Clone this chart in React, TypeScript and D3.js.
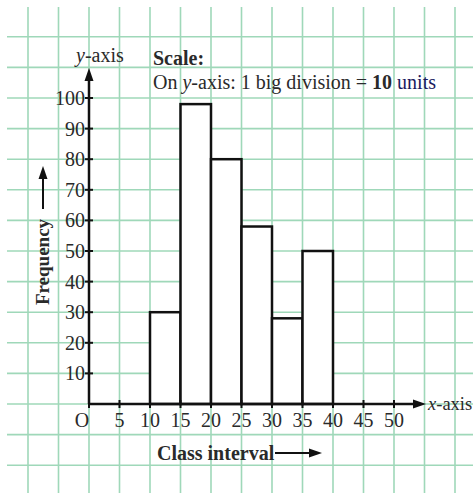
import React from "react";
import * as d3 from "d3";

const classStarts = [10, 15, 20, 25, 30, 35];
const classEnds = [15, 20, 25, 30, 35, 40];
const frequencies = [30, 98, 80, 58, 28, 50];
const xTicks = [0, 5, 10, 15, 20, 25, 30, 35, 40, 45, 50];
const xTickLabels = ["O", "5", "10", "15", "20", "25", "30", "35", "40", "45", "50"];
const yTicks = [10, 20, 30, 40, 50, 60, 70, 80, 90, 100];
const gridX = d3.range(-10, 61, 5);
const gridY = d3.range(-20, 121, 10);

const W = 476;
const H = 493;
const FONT = "'Liberation Serif', 'DejaVu Serif', serif";
const GRID = "#9fd8b9";
const TXT = "#2a2a2a";

export default function App() {
  const x = d3.scaleLinear().domain([0, 50]).range([89, 394]);
  const y = d3.scaleLinear().domain([0, 100]).range([404, 98]);
  const axisTipY = 68;
  const axisTipX = 426;

  return (
    <svg
      width={W}
      height={H}
      style={{ position: "absolute", left: 0, top: 0, background: "#fff" }}
      fontFamily={FONT}
    >
      <g stroke={GRID} strokeWidth={1.6}>
        {gridX.map((v) => (
          <line key={"gx" + v} x1={x(v)} x2={x(v)} y1={7} y2={H} />
        ))}
        {gridY.map((v) => (
          <line key={"gy" + v} x1={7} x2={473} y1={y(v)} y2={y(v)} />
        ))}
      </g>

      {/* bars */}
      <g fill="#fff" stroke="#111" strokeWidth={2.5}>
        {frequencies.map((f, i) => (
          <rect
            key={i}
            x={x(classStarts[i])}
            y={y(f)}
            width={x(classEnds[i]) - x(classStarts[i])}
            height={y(0) - y(f)}
          />
        ))}
      </g>

      {/* axes */}
      <g stroke="#111" strokeWidth={2.5}>
        <line x1={x(0)} x2={x(0)} y1={y(0)} y2={axisTipY + 8} />
        <line x1={x(0)} x2={axisTipX - 8} y1={y(0)} y2={y(0)} />
        {yTicks.map((v) => (
          <line key={"yt" + v} x1={x(0) - 4} x2={x(0) + 4} y1={y(v)} y2={y(v)} strokeWidth={2} />
        ))}
        {xTicks.map((v) => (
          <line key={"xt" + v} x1={x(v)} x2={x(v)} y1={y(0) - 4} y2={y(0) + 4} strokeWidth={2} />
        ))}
      </g>
      <path
        d={`M${x(0)},${axisTipY} L${x(0) - 4.5},${axisTipY + 13} L${x(0) + 4.5},${axisTipY + 13} Z`}
        fill="#111"
      />
      <path
        d={`M${axisTipX},${y(0)} L${axisTipX - 13},${y(0) - 4.5} L${axisTipX - 13},${y(0) + 4.5} Z`}
        fill="#111"
      />

      {/* tick labels */}
      <g fontSize={20} fill={TXT}>
        {yTicks.map((v) => (
          <text key={"yl" + v} x={x(0) - 4} y={y(v)} dy="0.35em" textAnchor="end">
            {v}
          </text>
        ))}
        {xTicks.map((v, i) => (
          <text
            key={"xl" + v}
            x={i === 0 ? x(v) - 7 : x(v)}
            y={427}
            textAnchor="middle"
          >
            {xTickLabels[i]}
          </text>
        ))}
      </g>

      {/* axis names */}
      <text x={76} y={62} fontSize={20} fill={TXT}>
        <tspan fontStyle="italic">y</tspan>-axis
      </text>
      <text x={428} y={410} fontSize={18.5} fill={TXT}>
        <tspan fontStyle="italic">x</tspan>-axis
      </text>

      {/* scale note */}
      <text x={153} y={65} fontSize={20} fontWeight="bold" fill={TXT}>
        Scale:
      </text>
      <text x={153} y={89} fontSize={20} fill={TXT}>
        On <tspan fontStyle="italic">y</tspan>-axis: 1 big division ={" "}
        <tspan fontWeight="bold">10</tspan>{" "}
        <tspan fill="#1a1a5e">units</tspan>
      </text>

      {/* Frequency label with arrow */}
      <text
        transform="translate(49,262) rotate(-90)"
        textAnchor="middle"
        fontSize={19}
        fontWeight="bold"
        fill={TXT}
      >
        Frequency
      </text>
      <line x1={43} x2={43} y1={209} y2={176} stroke="#111" strokeWidth={2} />
      <path d="M43,166 L38.5,179 L47.5,179 Z" fill="#111" />

      {/* Class interval label with arrow */}
      <text x={157} y={460} fontSize={20} fontWeight="bold" fill={TXT}>
        Class interval
      </text>
      <line x1={275} x2={312} y1={453} y2={453} stroke="#111" strokeWidth={2} />
      <path d="M322,453 L309,448.5 L309,457.5 Z" fill="#111" />
    </svg>
  );
}
